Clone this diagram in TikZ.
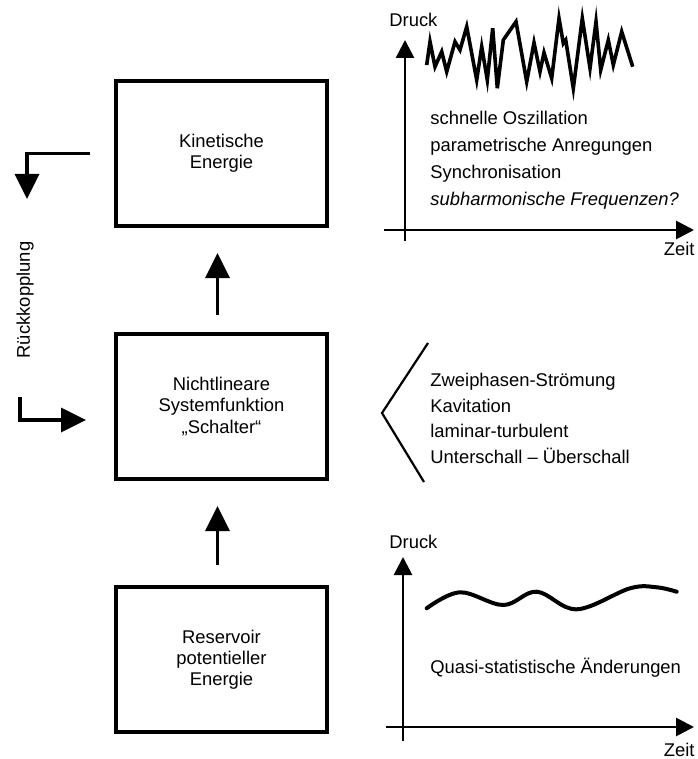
\documentclass[tikz,border=0pt]{standalone}
\usepackage{fontspec}
\setmainfont{Liberation Sans}
\usetikzlibrary{matrix,positioning}
\usetikzlibrary{arrows.meta}

\begin{document}
\begin{tikzpicture}[x=0.5pt, y=-0.5pt,
  font=\fontsize{9.2}{10.6}\selectfont,
  box/.style={draw, line width=2pt, minimum width=105.5pt, minimum height=72.5pt, align=center, inner sep=0pt},
  flow/.style={-{Triangle[width=12pt,length=12.5pt]}, line width=1.8pt},
  axis/.style={-{Triangle[width=9pt,length=9pt]}, line width=1.4pt},
  lbl/.style={align=left, inner sep=0pt}]
  \useasboundingbox (0,0) rectangle (697,759);

  \matrix (m) [row sep=52pt] at (221.5,406.5)
  {
    \node[box] (kin) {Kinetische\\Energie}; \\
    \node[box] (schalter) {Nichtlineare\\Systemfunktion\\„Schalter“}; \\
    \node[box] (reservoir) {Reservoir\\potentieller\\Energie}; \\
  };

  % Pfeile zwischen den Kästen
  \path[flow, shorten >=12.5pt, shorten <=8.5pt] ([xshift=-2pt]schalter.north) edge ([xshift=-2pt]kin.south);
  \path[flow, shorten >=12.5pt, shorten <=10pt] ([xshift=-2pt]reservoir.north) edge ([xshift=-2pt]schalter.south);

  % Rückkopplung
  \coordinate (rkA) at (27,199);
  \coordinate (rkB) at (20,397);
  \coordinate (rkC) at (86,420);
  \draw[flow] ([xshift=-12pt]kin.west) -| (rkA);
  \draw[flow] (rkB) |- (rkC);
  \node[rotate=90] (rk) at (25,300) {Rückkopplung};

  % oben: Druck ueber Zeit
  \coordinate (oA) at (405,241);
  \coordinate (yA) at (405,40);
  \coordinate (xA0) at (384,230);
  \coordinate (xA) at (694,230);
  \draw[axis] (oA) -- (yA);
  \draw[axis] (xA0) -- (xA);
  \node[anchor=west, inner sep=0pt] (druckA) at (389,20) {Druck};
  \node[anchor=east, inner sep=0pt] (zeitA) at (695,249) {Zeit};
  \draw[line width=1.8pt, line join=miter] (426.7,65) -- (430,41.7) -- (435,66.7) -- (441.7,51.7)
    -- (446.7,71.7) -- (455,41.7) -- (460,50) -- (466.7,26.7) -- (476.7,80) -- (481.7,46.7)
    -- (487.3,80) -- (492.7,28.3) -- (497.3,88.3) -- (503.3,40) -- (516,21.7) -- (526.7,81.7)
    -- (534,42.7) -- (540,71.7) -- (544,52.7) -- (551.7,78.3) -- (559,18.3) -- (563.3,43.3)
    -- (565.7,40) -- (573.3,88.3) -- (582.3,18.3) -- (590,68.3) -- (596,21.7) -- (600.7,70)
    -- (608.3,40) -- (613.3,65) -- (621.7,31.7) -- (632.7,66.7);
  \node[lbl, anchor=north west, font=\fontsize{9.2}{13.6}\selectfont] (osz) at (430,110.5)
    {schnelle Oszillation\\parametrische Anregungen\\Synchronisation\\\itshape subharmonische Frequenzen?};

  % Mitte
  \coordinate (klA) at (428,343);
  \coordinate (klB) at (382,413);
  \coordinate (klC) at (424,482);
  \draw[line width=1.1pt] (klA) -- (klB) -- (klC);
  \node[lbl, anchor=north west, font=\fontsize{9.2}{12.9}\selectfont] (umschlag) at (430,372.5)
    {Zweiphasen-Strömung\\Kavitation\\laminar-turbulent\\Unterschall -- Überschall};

  % unten: Druck ueber Zeit
  \coordinate (oB) at (403,741);
  \coordinate (yB) at (403,557);
  \coordinate (xB0) at (386,727);
  \coordinate (xB) at (694,727);
  \draw[axis] (oB) -- (yB);
  \draw[axis] (xB0) -- (xB);
  \node[anchor=west, inner sep=0pt] (druckB) at (389,542) {Druck};
  \node[anchor=east, inner sep=0pt] (zeitB) at (695,750) {Zeit};
  \draw[line width=2pt, line cap=round] plot[smooth, tension=0.6] coordinates {(426.7,608.3) (460,592.3)
    (503.3,605) (536.7,591.7) (576.7,609.3) (630,588.3) (656.7,587.3) (676.7,591.7)};
  \node[anchor=west, inner sep=0pt] (quasi) at (430,668) {Quasi-statistische Änderungen};

\end{tikzpicture}
\end{document}
